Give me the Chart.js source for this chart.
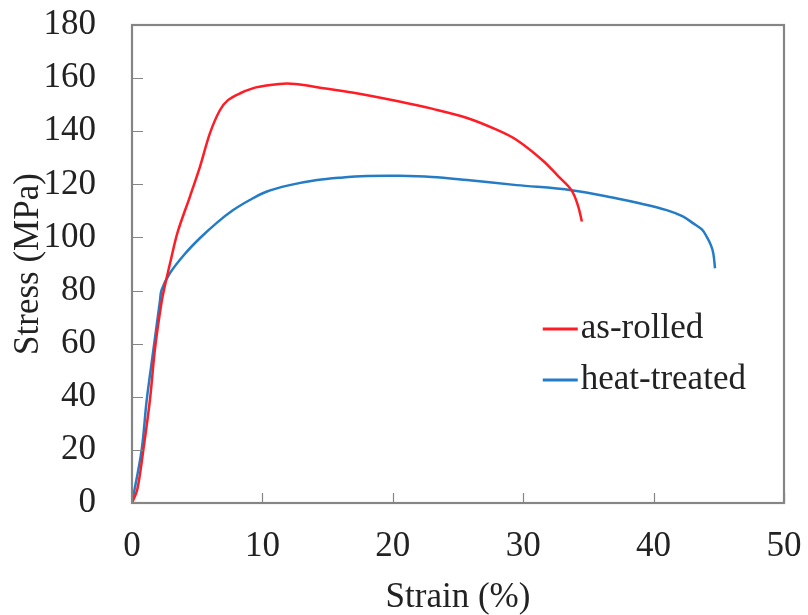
<!DOCTYPE html>
<html>
<head>
<meta charset="utf-8">
<script src="https://cdn.jsdelivr.net/npm/chart.js@4/dist/chart.umd.min.js"></script>
<style>
  html, body { margin: 0; padding: 0; background: #fff; }
  #chart_canvas { display: block; }
</style>
</head>
<body>
<canvas id="chart_canvas" width="808" height="615"></canvas>
<script>
// stress-strain curves, strain in %, stress in MPa
const rolledStrain = [0, 0.4, 0.87, 1.38, 1.76, 2.28, 2.53, 3.0, 3.5, 4.45, 5.21, 5.98, 6.75, 7.36, 8.3, 9.5, 11.3, 12.5, 14.2, 17, 20.5, 23, 25.7, 28, 29.5, 31.5, 32.7, 33.7, 34.2, 34.5];
const rolledStress = [0, 5, 20, 39, 58, 76, 82, 92, 102, 115.5, 126.6, 139.3, 148, 151.7, 154.3, 156.5, 157.8, 157.8, 156.6, 154.5, 151.2, 148.5, 145, 140.5, 136.7, 129, 123, 117.8, 112, 106];

const treatedStrain = [0, 0.74, 1.13, 1.64, 2.15, 2.27, 2.9, 4, 5.2, 6.5, 7.76, 9, 10.3, 12, 14.2, 16, 18, 20.5, 23, 25.7, 29.5, 33.7, 37.2, 39, 41, 42.2, 43.05, 43.7, 44.07, 44.4, 44.58, 44.71];
const treatedStress = [0, 20, 38.8, 57.6, 76.4, 80.2, 86.5, 93.5, 99.7, 105.5, 110.3, 114, 117.2, 119.6, 121.6, 122.5, 123.1, 123.2, 122.8, 121.6, 119.7, 117.8, 114.7, 112.8, 110.3, 108, 105.3, 103, 100.3, 97, 94, 88.4];

const seriesNames = ["as-rolled", "heat-treated"];
const seriesColors = ["rgb(255, 28, 36)", "rgb(36, 124, 198)"];

const xTicks = [0, 10, 20, 30, 40, 50];
const yTicks = [0, 20, 40, 60, 80, 100, 120, 140, 160, 180];

const FONT = "'Liberation Serif', 'Times New Roman', serif";
const AXIS_GREY = "#858585";

function toPoints(xs, ys) {
  return xs.map((x, i) => ({ x: x, y: ys[i] }));
}

// frame round the plot area plus inward tick marks
const framePlugin = {
  id: "frame",
  afterDatasetsDraw(chart) {
    const ctx = chart.ctx;
    const a = chart.chartArea;
    const xs = chart.scales.x;
    const ys = chart.scales.y;
    ctx.save();
    ctx.strokeStyle = AXIS_GREY;
    ctx.lineWidth = 2.2;
    ctx.strokeRect(a.left, a.top, a.right - a.left, a.bottom - a.top);
    ctx.lineWidth = 1.2;
    ctx.beginPath();
    xTicks.forEach(v => {
      const px = Math.round(xs.getPixelForValue(v)) + 0.5;
      ctx.moveTo(px, a.bottom);
      ctx.lineTo(px, a.bottom - 10);
    });
    yTicks.forEach(v => {
      const py = Math.round(ys.getPixelForValue(v)) + 0.5;
      ctx.moveTo(a.left, py);
      ctx.lineTo(a.left + 11, py);
    });
    ctx.stroke();
    ctx.restore();
  }
};

// legend box placed inside the plot area
const legendPlugin = {
  id: "innerLegend",
  afterDatasetsDraw(chart) {
    const ctx = chart.ctx;
    const xs = chart.scales.x;
    const ys = chart.scales.y;
    const x0 = xs.getPixelForValue(31.5);
    let y = ys.getPixelForValue(65.5);
    ctx.save();
    ctx.font = "35px " + FONT;
    ctx.textBaseline = "middle";
    chart.data.datasets.forEach(ds => {
      ctx.strokeStyle = ds.borderColor;
      ctx.lineWidth = 3;
      ctx.beginPath();
      ctx.moveTo(x0, y);
      ctx.lineTo(x0 + 35, y);
      ctx.stroke();
      ctx.fillStyle = "#222";
      ctx.fillText(ds.label, x0 + 38, y);
      y += 51;
    });
    ctx.restore();
  }
};

const context = document.getElementById("chart_canvas").getContext("2d");

const chart = new Chart(context, {
  type: "scatter",
  data: {
    datasets: [{
      label: seriesNames[0],
      data: toPoints(rolledStrain, rolledStress),
      borderColor: seriesColors[0],
      borderWidth: 2.5,
      showLine: true,
      pointRadius: 0,
      tension: 0.35
    }, {
      label: seriesNames[1],
      data: toPoints(treatedStrain, treatedStress),
      borderColor: seriesColors[1],
      borderWidth: 2.5,
      showLine: true,
      pointRadius: 0,
      tension: 0.35
    }]
  },
  options: {
    responsive: false,
    animation: false,
    layout: {
      autoPadding: false,
      padding: { left: 0, right: 24, top: 25, bottom: 0 }
    },
    plugins: {
      legend: { display: false },
      tooltip: { enabled: false }
    },
    scales: {
      x: {
        type: "linear",
        min: 0,
        max: 50,
        grid: { display: false },
        border: { display: false },
        afterFit(scale) {
          scale.height = 112;
          scale.paddingLeft = 0;
          scale.paddingRight = 0;
        },
        afterBuildTicks(scale) { scale.ticks = xTicks.map(v => ({ value: v })); },
        ticks: {
          font: { family: FONT, size: 35 },
          color: "#222",
          padding: 15,
          maxRotation: 0
        },
        title: {
          display: true,
          text: "Strain (%)",
          font: { family: FONT, size: 35, lineHeight: 1.0 },
          color: "#222",
          padding: { top: 0, bottom: 0 }
        }
      },
      y: {
        type: "linear",
        min: 0,
        max: 180,
        grid: { display: false },
        border: { display: false },
        afterFit(scale) {
          scale.width = 132;
          scale.paddingTop = 0;
          scale.paddingBottom = 0;
        },
        afterBuildTicks(scale) { scale.ticks = yTicks.map(v => ({ value: v })); },
        ticks: {
          font: { family: FONT, size: 35 },
          color: "#222",
          padding: 28
        },
        title: {
          display: true,
          text: "Stress (MPa)",
          font: { family: FONT, size: 35 },
          color: "#222",
          padding: { top: 8, bottom: 0 }
        }
      }
    }
  },
  plugins: [framePlugin, legendPlugin]
});
</script>
</body>
</html>
